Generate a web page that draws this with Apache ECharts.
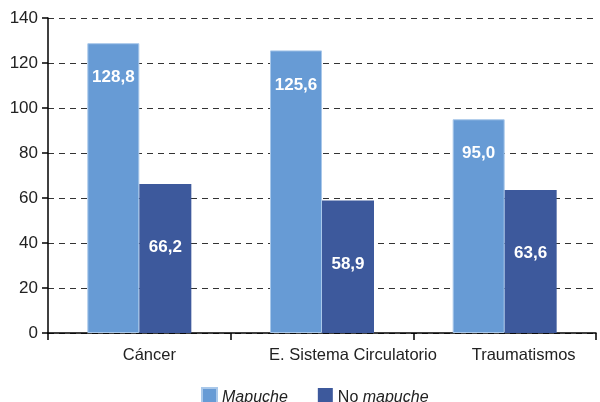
<!DOCTYPE html>
<html><head><meta charset="utf-8">
<script src="https://cdn.jsdelivr.net/npm/echarts@6/dist/echarts.min.js"></script>
<style>html,body{margin:0;padding:0;background:#fff}#c{width:600px;height:402px}</style>
</head><body><div id="c"></div>
<script>
var categories = ['Cáncer', 'E. Sistema Circulatorio', 'Traumatismos'];
var mapuche = [128.8, 125.6, 95.0];
var noMapuche = [66.2, 58.9, 63.6];
var yTicks = [0, 20, 40, 60, 80, 100, 120, 140];

var labelPad = [20, 62, 38];
var chart = echarts.init(document.getElementById('c'));
var fmt = function (p) { return p.value.toFixed(1).replace('.', ','); };
var FS = 16.5;
var LFS = 16;
chart.setOption({
  animation: false,
  textStyle: {fontFamily: 'Liberation Sans, Arial, sans-serif'},
  grid: {left: 48, right: 4, top: 18, bottom: 69},
  legend: {
    top: 387, left: 201, padding: 0, itemWidth: 15, itemHeight: 16, itemGap: 30,
    icon: 'rect',
    textStyle: {fontSize: LFS, color: '#222', fontFamily: 'Liberation Sans, Arial, sans-serif',
      rich: {i: {fontStyle: 'italic', fontSize: LFS, color: '#222', padding: [3, 0, 0, 0]},
             n: {fontSize: LFS, color: '#222', padding: [3, 0, 0, 0]}}},
    formatter: function (n) { return n === 'Mapuche' ? '{i|Mapuche}' : '{n|No }{i|mapuche}'; },
    data: ['Mapuche', 'No mapuche']
  },
  xAxis: {
    type: 'category', data: categories,
    axisLine: {lineStyle: {color: '#000', width: 1.5}},
    axisTick: {show: true, interval: 0, length: 7, alignWithLabel: false, lineStyle: {color: '#000', width: 1.5}},
    axisLabel: {interval: 0, fontSize: FS, color: '#222', margin: 14,
      formatter: function (v) { return '{p' + categories.indexOf(v) + '|' + v + '}'; },
      rich: {
        p0: {fontSize: FS, color: '#222', padding: [0, 0, 0, labelPad[0]]},
        p1: {fontSize: FS, color: '#222', padding: [0, 0, 0, labelPad[1]]},
        p2: {fontSize: FS, color: '#222', padding: [0, 0, 0, labelPad[2]]}
      }}
  },
  yAxis: {
    type: 'value', min: 0, max: 140, interval: 20,
    axisLine: {show: true, lineStyle: {color: '#000', width: 1.5}},
    axisTick: {show: true, length: 6, lineStyle: {color: '#000', width: 1.5}},
    axisLabel: {fontSize: 17, color: '#222', margin: 10},
    splitLine: {lineStyle: {color: '#333', type: [6, 5], width: 1}}
  },
  series: [
    {name: 'Mapuche', type: 'bar', data: mapuche, barWidth: 52, barGap: '0%',
      itemStyle: {color: '#679BD5', borderColor: '#A9C8EA', borderWidth: 1},
      label: {show: true, position: 'insideTop', distance: 26, color: '#fff', fontWeight: 'bold', fontSize: 17, formatter: fmt}},
    {name: 'No mapuche', type: 'bar', data: noMapuche, barWidth: 52,
      itemStyle: {color: '#3D599C'},
      label: {show: true, position: 'insideTop', distance: 55, color: '#fff', fontWeight: 'bold', fontSize: 17, formatter: fmt}}
  ]
});
</script></body></html>
